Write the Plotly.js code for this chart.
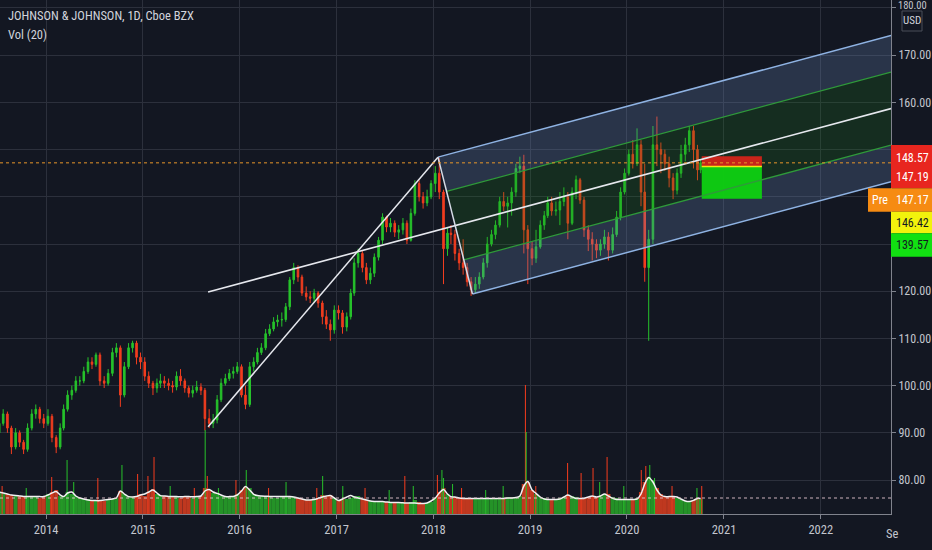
<!DOCTYPE html>
<html><head><meta charset="utf-8">
<script src="https://cdn.plot.ly/plotly-3.0.1.min.js"></script>
<style>html,body{margin:0;padding:0;background:#131722;}#chart{width:932px;height:550px;}</style>
</head><body><div id="chart"></div>
<script>
// ---------- DATA ----------
// semi-monthly candles: periods centred on the 8th and the 23rd of every month
const periodYears = [2013, 2020];
const lastPeriod = '2020-10-05';

const closes = [
 92,94,91,87,90,88,86.5,91,94,95,93,92,
 93.5,89,87,91,95,98,99,101,101,103,105,104.5,106.5,101,100.5,102.6,107,108,98,104,108,109,106,105,
 102,100.5,99.5,100.5,101,100.5,100,99.7,102,101,99.5,98.4,99,99.7,99,93,92,92.7,97,100.5,101.5,102.6,103,104,
 98,96,104,105,107,108,111,112,113.5,113.9,114,116.7,122.4,125,123,119.6,118.8,118.5,119.6,117.5,114.6,113,111.8,116,
 115.4,112.4,114.6,119.6,126,128,125,122.4,123.8,127.2,130.8,135.7,133.6,134.4,132.5,133,134.4,130.8,136.5,142.8,140,138.7,140,142.8,
 145,141,129,132.3,132,128,126,125,122,120.3,121.5,123,126,130,132,134,139,138,138.7,141,146,146.5,133,129,
 127,129.4,134,136,138.7,137,137.2,139,140,134.4,141,143.6,139.3,133,131,130,128.7,130,131.5,128.7,132,135.7,141,145,
 149,147,151,141,125,131,151,150,149,147,144,141.4,145,149,151,154,150,145.7,147.19
];
const opens = [
 90,92,94,91,87,90,88,86.5,91,94,95,93,
 92,93.5,89,87,91,95,98,99,101,101,103,105,104.5,106.5,101,100.5,102.6,107,108,98,104,108,109,106,
 105,102,100.5,99.5,100.5,101,100.5,100,99.7,102,101,99.5,98.4,99,99.7,99,93,92,92.7,97,100.5,101.5,102.6,103,
 104,98,96,104,105,107,108,111,112,113.5,113.9,114,116.7,122.4,125,123,119.6,118.8,118.5,119.6,117.5,114.6,113,111.8,
 116,115.4,112.4,114.6,119.6,126,128,125,122.4,123.8,127.2,130.8,135.7,133.6,134.4,132.5,133,134.4,130.8,136.5,142.8,140,138.7,140,
 142.8,145,141,129,132.3,132,128,126,125,122,120.3,121.5,123,126,130,132,134,139,138,138.7,141,146,146.5,133,
 129,127,129.4,134,136,138.7,137,137.2,139,140,134.4,141,143.6,139.3,133,131,130,128.7,130,131.5,128.7,132,135.7,141,
 145,149,147,151,141,125,131,151,150,149,147,144,141.4,145,149,151,154,150,145.7
];
const highs = [
 93,95,94.5,91.5,91,90.5,88.5,92,95,96,95.5,94,
 95,94,89.5,92,96,99,100,102,102,104,106,106,107,107,102,103.5,108,109,108.5,105,109,109.5,109.5,107,
 106,103,101,101.5,102.5,102,101.5,101,103,103.5,101.5,100,100,101,100.5,99.5,95,94,98,101.5,102.5,103.5,104,105,
 104.5,100,105,106,108,109,112,113,114.5,115,115.5,117.5,123,126,125.5,123.5,121,120,120.5,120,118,116,114,117,
 117,116,115.5,120.5,127,129,128.5,126,125,128,131.5,136.5,136,135.5,135,134,135.5,135,137.5,143.5,143.5,141,141.5,143.5,
 146.5,148.3,141.5,133.5,134,133,129,131,126,123,123,124,127,131.5,133,135,140,141,140,142,147,148.5,148.9,134,
 130.5,133,135,137,140,140,139,141,142,141,142,144.5,144,140,134,132.5,131,131,133,132.5,133.5,137,142,146,
 150,152,154.5,152,147,133,155,157,151.5,150,148.5,145,146,151,152.5,155,155,151,148
];
const lows = [
 89.5,91.5,90,85.5,86.5,87,85.5,86,90.5,93,92,91,
 91.5,88,85.7,86.5,90.5,94.5,97,98.5,100,100.5,102.5,103.5,104,100,99.5,100,102,106,95.5,97.5,103.5,107,104.5,103.5,
 101,99.5,98,98.5,99.5,99.5,99,98.5,99,100,98.5,97.5,97.5,98.5,98,90.5,91,91,92,96.5,100,101,101.5,102.5,
 97.5,95,95.5,103,104.5,106.5,107.5,110.5,111.5,112.5,112.5,113.5,116,121.5,122,119,118,117.5,117.5,116.5,113,112,109.5,111,
 114,111,111.5,114,119,125,124,121.5,121.5,123,126.5,130,132.5,132.5,131.5,131,132,130,130.5,136,139,137.5,138,139.5,
 141,139.5,121.5,127.5,130,126.5,124.5,123.5,121,119,119.5,120.5,122.5,125,129.5,131,133.5,137,133.5,136,140,145,128,121.5,
 125.5,126,129,133,135.5,136,136,134,138,131,134,139.5,138.5,131.5,128.5,126.5,127,127.5,129,126.5,128,131.5,135,140.5,
 144.5,146,146.5,138,122,109.5,130,146.5,145,145.5,142,139.5,140.5,144,147.5,149.5,146,143.5,145
];
// volume (millions, average per half-month) and Vol(20) moving average
const volumes = [
 11,10,10,9.5,9,9,8.5,8.5,9,8.5,8,9,
 10,11,12,9,9,11,10,9,8,7.5,7.5,7,7,6.5,6.5,7,7.5,8,11.5,10,9,8.5,9,10,
 9,11,12.5,10,9.5,9,8.5,8.5,8.5,8,8.5,8.5,8,8.5,9,13,12,10.5,10,9,8.5,8.5,9,10,
 12,13.5,13,10,9,9,8.5,8.5,8,8,8.5,9,8.5,8.5,8,7.5,7,7,7.5,8,9.5,9,9.5,8,
 7,7.5,7.5,8,9,9,7.5,7,6.5,6.5,6.5,6.5,6,6,6,5.5,5.5,5.5,6,7,6,5.5,5.5,6,
 8,11,13,10,9,8.5,8,8,8,7.5,7.5,8,7.5,8,7.5,7.5,8,8,8.5,8.5,8.5,9,15,16,
 12,10,8.5,8,7.5,7.5,7.5,8,8.5,9.5,9,8.5,8,8,8.5,9,8.5,9,10,10,8.5,8,7.5,7.5,
 7.5,7.5,8,11,16,18.5,17,13,10,9,8.5,8.5,8,7.5,6.5,6.5,7,8,7.5
];
const volMA = [
 11,10.5,10,9.5,9.2,9,8.8,8.7,8.7,8.7,8.7,8.7,
 9.5,10.5,11.2,9.5,8.7,10.5,11,9,8,7.5,7,6.8,6.7,6.7,7,7.2,7.5,8,11.5,10,8.7,8.5,8.7,9.5,
 10,11,12,10.5,9.2,9,8.8,8.7,8.7,8.6,8.7,8.7,8.6,8.7,9,11.5,12.3,11,10.3,9.5,8.7,8.7,8.8,9.5,
 11.5,13.7,12,9.8,9.2,9,8.9,8.8,8.7,8.7,8.7,8.8,8.7,8.5,8,7.5,7,7,7.2,7.8,8.5,9,9.2,8,
 6.7,7.5,8.5,9.2,8.5,8,7.5,7,6.5,6.3,6.2,6.2,6,5.8,5.7,5.7,5.6,5.5,5.5,5.5,5.3,5.3,5.5,6.5,
 8,10.5,12.3,10,8.7,8.5,8,7.8,7.8,7.8,7.8,7.8,7.8,7.8,7.8,7.8,7.8,7.8,8,8,8.2,9,14,16.2,
 12,10.3,8.5,7.5,7.3,7.3,7.3,7.5,8.5,9.5,8.5,7.8,7.8,7.8,8.5,9,8.5,9,10,9,7.8,7.3,7.3,7.3,
 7.3,7.3,7.5,10,15,18.3,16,12,9.5,8.7,8.7,8.7,8.5,7.5,6.5,6.2,6.8,7.8,7.8
];
// single-day volume spikes
const spikeDates = ['2013-07-19','2013-10-18','2014-01-22','2014-03-21','2014-04-15','2014-07-15','2014-10-14','2014-12-12',
 '2015-01-20','2015-02-12','2015-04-14','2015-07-14','2015-08-24','2015-09-01','2015-10-13','2015-12-18','2016-01-26',
 '2016-04-19','2016-06-24','2016-10-18','2016-11-09','2017-01-24','2017-04-18','2017-07-18','2017-09-15','2017-10-17',
 '2018-01-16','2018-02-02','2018-02-08','2018-03-14','2018-04-17','2018-07-17','2018-09-21','2018-12-14','2018-12-17',
 '2019-01-22','2019-05-22','2019-07-12','2019-08-26','2019-09-20','2019-10-18','2019-12-20','2020-02-24','2020-03-12',
 '2020-03-27','2020-04-14','2020-06-19','2020-09-21','2020-10-09'];
const spikeVolumes = [14,13,18.5,27,16,18,24.5,20,19,28.5,14,13,42,19,13,17,22,13,16,13,19,14,13,12,19,14,
 19.5,22,18,15,13,12,14,64.5,41,14,25.5,20.5,23,16,28.5,14,22,24,24.5,18,14,13,14];
const spikeUp = ['d','u','d','u','u','d','u','d','d','d','u','d','u','d','u','d','u','d','u','d','u','u','d','u','d','u',
 'd','u','u','u','d','u','u','d','u','d','d','d','d','u','d','u','d','d','u','u','d','u','d'];

// drawing-tool anchors
const pivotDates = ['2015-09-04','2018-01-18','2018-05-28'];
const pivotPrices = [91.3, 148.4, 119.4];
const positionDates = ['2020-10-09','2021-05-24'];
const stopPrice = 148.57, entryPrice = 146.42, targetPrice = 139.57;
const lastPrice = 147.19, prePrice = 147.17;
const volLast = 8;

// axes
const xRange = ['2013-07-11','2022-09-23'];
const yearTicks = ['2014-01-01','2015-01-01','2016-01-01','2017-01-01','2018-01-01','2019-01-01','2020-01-01','2021-01-01','2022-01-01'];
const yearLabels = ['2014','2015','2016','2017','2018','2019','2020','2021','2022'];
const priceTicks = [80,90,100,110,120,130,140,150,160,170,180];
// 130, 140 and 150 sit behind the coloured price labels; 180 is drawn above the USD box
const priceLabels = ['80.00','90.00','100.00','110.00','120.00','','','','160.00','170.00',''];
const topLabel = '180.00';
const rightLabels = ['148.57','147.19','147.17','146.42','139.57'];

// ---------- build ----------
const dates = [];
for (let y = periodYears[0]; y <= periodYears[1]; y++) {
  for (let m = 1; m <= 12; m++) {
    if (y === 2013 && m < 7) continue;
    if (y === 2020 && m > 9) continue;
    const mm = String(m).padStart(2, '0');
    dates.push(y + '-' + mm + '-08', y + '-' + mm + '-23');
  }
}
dates.push(lastPeriod);

const DAY = 86400000;
const ms = d => Date.parse(d);
const UP = '#26c22b', DN = '#f23d1f';
const FONT = '"Liberation Sans Narrow", "Roboto Condensed", Roboto, sans-serif';

// pitchfork (modified Schiff)
const P = pivotDates.map((d, i) => ({t: ms(d), p: pivotPrices[i]}));
const S = {t: P[0].t, p: (P[0].p + P[1].p) / 2};
const M = {t: (P[1].t + P[2].t) / 2, p: (P[1].p + P[2].p) / 2};
const G1 = {t: (P[1].t + M.t) / 2, p: (P[1].p + M.p) / 2};
const G2 = {t: (M.t + P[2].t) / 2, p: (M.p + P[2].p) / 2};
const slope = (M.p - S.p) / (M.t - S.t);
const R = ms(xRange[1]);
const at = (pt, t) => pt.p + slope * (t - pt.t);
const poly = (a, b) => ({
  x: [a.t, R, R, b.t, a.t],
  y: [a.p, at(a, R), at(b, R), b.p, a.p]
});
const band = (a, b, color) => Object.assign({type: 'scatter', mode: 'none', fill: 'toself', fillcolor: color, hoverinfo: 'skip'}, poly(a, b));
const seg = (a, b, color, w) => ({type: 'scatter', mode: 'lines', x: [a.t, b.t], y: [a.p, b.p], line: {color: color, width: w}, hoverinfo: 'skip'});
const ray = (a, color, w) => seg(a, {t: R, p: at(a, R)}, color, w);

const BLUE_FILL = 'rgba(105,135,185,0.26)';
const GREEN_FILL = 'rgba(30,135,25,0.20)';
const TINE = '#8fb3e3', HALF = '#2f9a3a', WHITE = '#e6e8ee';

const traces = [
  band(P[1], G1, BLUE_FILL),
  band(G1, G2, GREEN_FILL),
  band(G2, P[2], BLUE_FILL),
  // position tool
  {type: 'scatter', mode: 'none', fill: 'toself', fillcolor: 'rgba(214,36,26,0.93)', hoverinfo: 'skip',
   x: [positionDates[0], positionDates[1], positionDates[1], positionDates[0], positionDates[0]],
   y: [stopPrice, stopPrice, entryPrice, entryPrice, stopPrice]},
  {type: 'scatter', mode: 'none', fill: 'toself', fillcolor: 'rgba(14,205,18,0.97)', hoverinfo: 'skip',
   x: [positionDates[0], positionDates[1], positionDates[1], positionDates[0], positionDates[0]],
   y: [entryPrice, entryPrice, targetPrice, targetPrice, entryPrice]},
  {type: 'scatter', mode: 'lines', x: positionDates, y: [entryPrice, entryPrice], line: {color: '#f4ea12', width: 1.5}, hoverinfo: 'skip'},
  // candles
  {type: 'candlestick', x: dates, open: opens, high: highs, low: lows, close: closes,
   increasing: {line: {color: UP, width: 1}, fillcolor: UP},
   decreasing: {line: {color: DN, width: 1}, fillcolor: DN},
   whiskerwidth: 0, hoverinfo: 'skip'},
  // pitchfork lines
  ray(P[1], TINE, 1.5),
  ray(P[2], TINE, 1.5),
  ray(G1, HALF, 1.3),
  ray(G2, HALF, 1.3),
  ray(S, WHITE, 1.6),
  seg(P[0], P[1], WHITE, 1.5),
  seg(P[1], P[2], '#d6dbe6', 1.5),
  // volume
  {type: 'bar', x: dates, y: volumes, yaxis: 'y2', width: 15.5 * DAY,
   marker: {color: closes.map((c, i) => c >= opens[i] ? 'rgba(40,168,40,0.85)' : 'rgba(222,62,30,0.85)'), line: {width: 0}},
   hoverinfo: 'skip'},
  {type: 'bar', x: spikeDates, y: spikeVolumes, yaxis: 'y2', width: 4 * DAY,
   marker: {color: spikeUp.map(s => s === 'u' ? '#26b82a' : '#ea3a1e'), line: {width: 0}}, hoverinfo: 'skip'},
  {type: 'scatter', mode: 'lines', x: dates, y: volMA, yaxis: 'y2', line: {color: '#f2f2f2', width: 1.5, shape: 'spline', smoothing: 0.8}, hoverinfo: 'skip'}
];

// pixel helpers for the price-scale labels (plot area 891 x 514)
const PW = 891, PH = 514;
const px = v => v / PW, py = v => 1 - v / PH;
const box = (x0, x1, y0, y1, color) => ({type: 'rect', xref: 'paper', yref: 'paper', x0: px(x0), x1: px(x1), y0: py(y1), y1: py(y0),
  fillcolor: color, line: {width: 0}, layer: 'above'});
const txt = (text, x, y, color, size, anchor) => ({text: text, xref: 'paper', yref: 'paper', x: px(x), y: py(y),
  xanchor: anchor || 'center', yanchor: 'middle', showarrow: false, font: {family: FONT, size: size || 12, color: color}});

const layout = {
  width: 932, height: 550,
  margin: {l: 0, r: 41, t: 0, b: 36, pad: 0},
  paper_bgcolor: '#131722', plot_bgcolor: '#131722',
  font: {family: FONT, color: '#c3c6ce', size: 12},
  showlegend: false, hovermode: false, dragmode: false, barmode: 'overlay',
  xaxis: {type: 'date', range: xRange, tickvals: yearTicks, ticktext: yearLabels,
    showgrid: true, gridcolor: '#2c303c', gridwidth: 1, zeroline: false,
    showline: true, linecolor: '#80838d', linewidth: 1, ticks: 'outside', ticklen: 4, tickcolor: '#80838d',
    tickfont: {family: FONT, size: 12.5, color: '#c3c6ce'}, rangeslider: {visible: false}, fixedrange: true},
  yaxis: {side: 'right', range: [72.8, 181.69], tickvals: priceTicks, ticktext: priceLabels,
    showgrid: true, gridcolor: '#2c303c', zeroline: false,
    showline: true, linecolor: '#80838d', linewidth: 1, ticks: 'outside', ticklen: 4, tickcolor: '#80838d',
    tickfont: {family: FONT, size: 12, color: '#c3c6ce'}, fixedrange: true},
  yaxis2: {overlaying: 'y', range: [0, 257], visible: false, fixedrange: true},
  shapes: [
    {type: 'line', xref: 'paper', x0: 0, x1: 1, yref: 'y', y0: lastPrice, y1: lastPrice, line: {color: '#e8962a', width: 1, dash: 'dot'}},
    {type: 'line', xref: 'paper', x0: 0, x1: 1, yref: 'y2', y0: volLast, y1: volLast, line: {color: 'rgba(226,196,206,0.9)', width: 1, dash: 'dot'}},
    {type: 'rect', xref: 'paper', yref: 'paper', x0: px(902), x1: px(922), y0: py(31), y1: py(11), fillcolor: '#131722', line: {color: '#4a4e59', width: 1}, layer: 'above'},
    box(891, 932, 145, 188.3, '#e8261f'),
    box(868, 932, 188.3, 211.7, '#f68b12'),
    box(891, 932, 211.7, 233.3, '#f2f20c'),
    box(891, 932, 233.3, 256.7, '#12e012')
  ],
  annotations: [
    txt('JOHNSON &amp; JOHNSON, 1D, Cboe BZX', 6, 15, '#d1d4dc', 12.5, 'left'),
    txt('Vol (20)', 6, 35, '#d1d4dc', 12.5, 'left'),
    txt(topLabel, 912, 6, '#c3c6ce', 10.5),
    txt('USD', 912, 21, '#d1d4dc', 11),
    txt(rightLabels[0], 912, 157.5, '#ffffff', 12),
    txt(rightLabels[1], 912, 176.5, '#ffffff', 12),
    txt('Pre', 879.5, 200, '#ffffff', 12),
    txt(rightLabels[2], 912, 200, '#ffffff', 12),
    txt(rightLabels[3], 912, 222.5, '#131722', 12),
    txt(rightLabels[4], 912, 245, '#131722', 12),
    txt('Se', 884, 533, '#c3c6ce', 12.5, 'left')
  ]
};

Plotly.newPlot('chart', traces, layout, {staticPlot: true, displayModeBar: false});
</script></body></html>
